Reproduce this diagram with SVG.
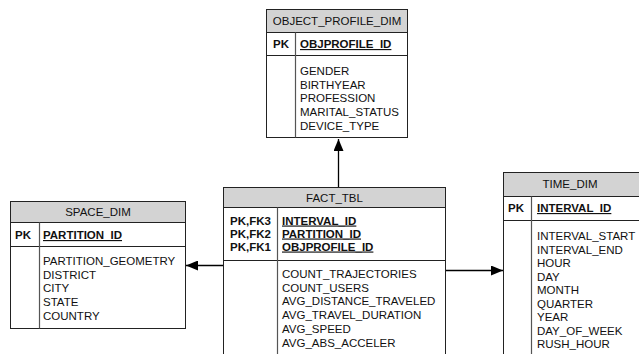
<svg xmlns="http://www.w3.org/2000/svg" width="639" height="354" viewBox="0 0 639 354">
<style>
text{font-family:"Liberation Sans",Arial,sans-serif;font-size:11.5px;fill:#111}
.t{text-anchor:middle}
.b{font-weight:bold}
.u{font-weight:bold;text-decoration:underline}
.box{fill:#fff;stroke:#222;stroke-width:1}
.hd{fill:#d3d3d3;stroke:#222;stroke-width:1}
.ln{stroke:#222;stroke-width:1;fill:none}
.dv{stroke:#555;stroke-width:1.2;fill:none}
.cn{stroke:#000;stroke-width:1.3;fill:none}
</style>
<defs>
<marker id="ah" viewBox="0 0 12 10" refX="12" refY="5" markerWidth="12" markerHeight="10" markerUnits="userSpaceOnUse" orient="auto">
<path d="M0,0 L12,5 L0,10 Z" fill="#000"/>
</marker>
</defs>

<g id="connectors">
<line class="cn" x1="338.5" y1="187" x2="338.5" y2="139" marker-end="url(#ah)"/>
<line class="cn" x1="223" y1="265.5" x2="186" y2="265.5" marker-end="url(#ah)"/>
<line class="cn" x1="445" y1="270.5" x2="503" y2="270.5" marker-end="url(#ah)"/>
</g>

<g id="object_profile_dim">
<rect class="box" x="266.5" y="9.5" width="141" height="128"/>
<rect class="hd" x="266.5" y="9.5" width="141" height="23"/>
<line class="ln" x1="266.5" y1="55.5" x2="407.5" y2="55.5"/>
<line class="dv" x1="295.5" y1="32.5" x2="295.5" y2="137.5"/>
<text class="t" x="337" y="25">OBJECT_PROFILE_DIM</text>
<text class="b" x="273" y="48">PK</text>
<text class="u" x="300" y="48">OBJPROFILE_ID</text>
<text x="300" y="75">GENDER</text>
<text x="300" y="88.7">BIRTHYEAR</text>
<text x="300" y="102.4">PROFESSION</text>
<text x="300" y="116.1">MARITAL_STATUS</text>
<text x="300" y="129.8">DEVICE_TYPE</text>
</g>

<g id="space_dim">
<rect class="box" x="10.5" y="201.5" width="175" height="127"/>
<rect class="hd" x="10.5" y="201.5" width="175" height="21"/>
<line class="ln" x1="10.5" y1="246.5" x2="185.5" y2="246.5"/>
<line class="dv" x1="39.5" y1="222.5" x2="39.5" y2="328.5"/>
<text class="t" x="98" y="216">SPACE_DIM</text>
<text class="b" x="15" y="239">PK</text>
<text class="u" x="43" y="239">PARTITION_ID</text>
<text x="43" y="265">PARTITION_GEOMETRY</text>
<text x="43" y="278.7">DISTRICT</text>
<text x="43" y="292.4">CITY</text>
<text x="43" y="306.1">STATE</text>
<text x="43" y="319.8">COUNTRY</text>
</g>

<g id="fact_tbl">
<rect class="box" x="223.5" y="187.5" width="222" height="180"/>
<rect class="hd" x="223.5" y="187.5" width="222" height="20"/>
<line class="ln" x1="223.5" y1="260.5" x2="445.5" y2="260.5"/>
<line class="dv" x1="277.5" y1="207.5" x2="277.5" y2="367.5"/>
<text class="t" x="334.5" y="201.5">FACT_TBL</text>
<text class="b" x="230" y="224.5">PK,FK3</text>
<text class="b" x="230" y="237.5">PK,FK2</text>
<text class="b" x="230" y="250.5">PK,FK1</text>
<text class="u" x="282" y="224.5">INTERVAL_ID</text>
<text class="u" x="282" y="237.5">PARTITION_ID</text>
<text class="u" x="282" y="250.5">OBJPROFILE_ID</text>
<text x="282" y="278">COUNT_TRAJECTORIES</text>
<text x="282" y="291.7">COUNT_USERS</text>
<text x="282" y="305.4">AVG_DISTANCE_TRAVELED</text>
<text x="282" y="319.1">AVG_TRAVEL_DURATION</text>
<text x="282" y="332.8">AVG_SPEED</text>
<text x="282" y="346.5">AVG_ABS_ACCELER</text>
</g>

<g id="time_dim">
<rect class="box" x="503.5" y="172.5" width="138" height="190"/>
<rect class="hd" x="503.5" y="172.5" width="138" height="24"/>
<line class="ln" x1="503.5" y1="220.5" x2="641.5" y2="220.5"/>
<line class="dv" x1="531.5" y1="196.5" x2="531.5" y2="362.5"/>
<text class="t" x="570" y="188">TIME_DIM</text>
<text class="b" x="508" y="212">PK</text>
<text class="u" x="537" y="212">INTERVAL_ID</text>
<text x="537" y="240">INTERVAL_START</text>
<text x="537" y="253.5">INTERVAL_END</text>
<text x="537" y="267">HOUR</text>
<text x="537" y="280.5">DAY</text>
<text x="537" y="294">MONTH</text>
<text x="537" y="307.5">QUARTER</text>
<text x="537" y="321">YEAR</text>
<text x="537" y="334.5">DAY_OF_WEEK</text>
<text x="537" y="348">RUSH_HOUR</text>
</g>
</svg>
